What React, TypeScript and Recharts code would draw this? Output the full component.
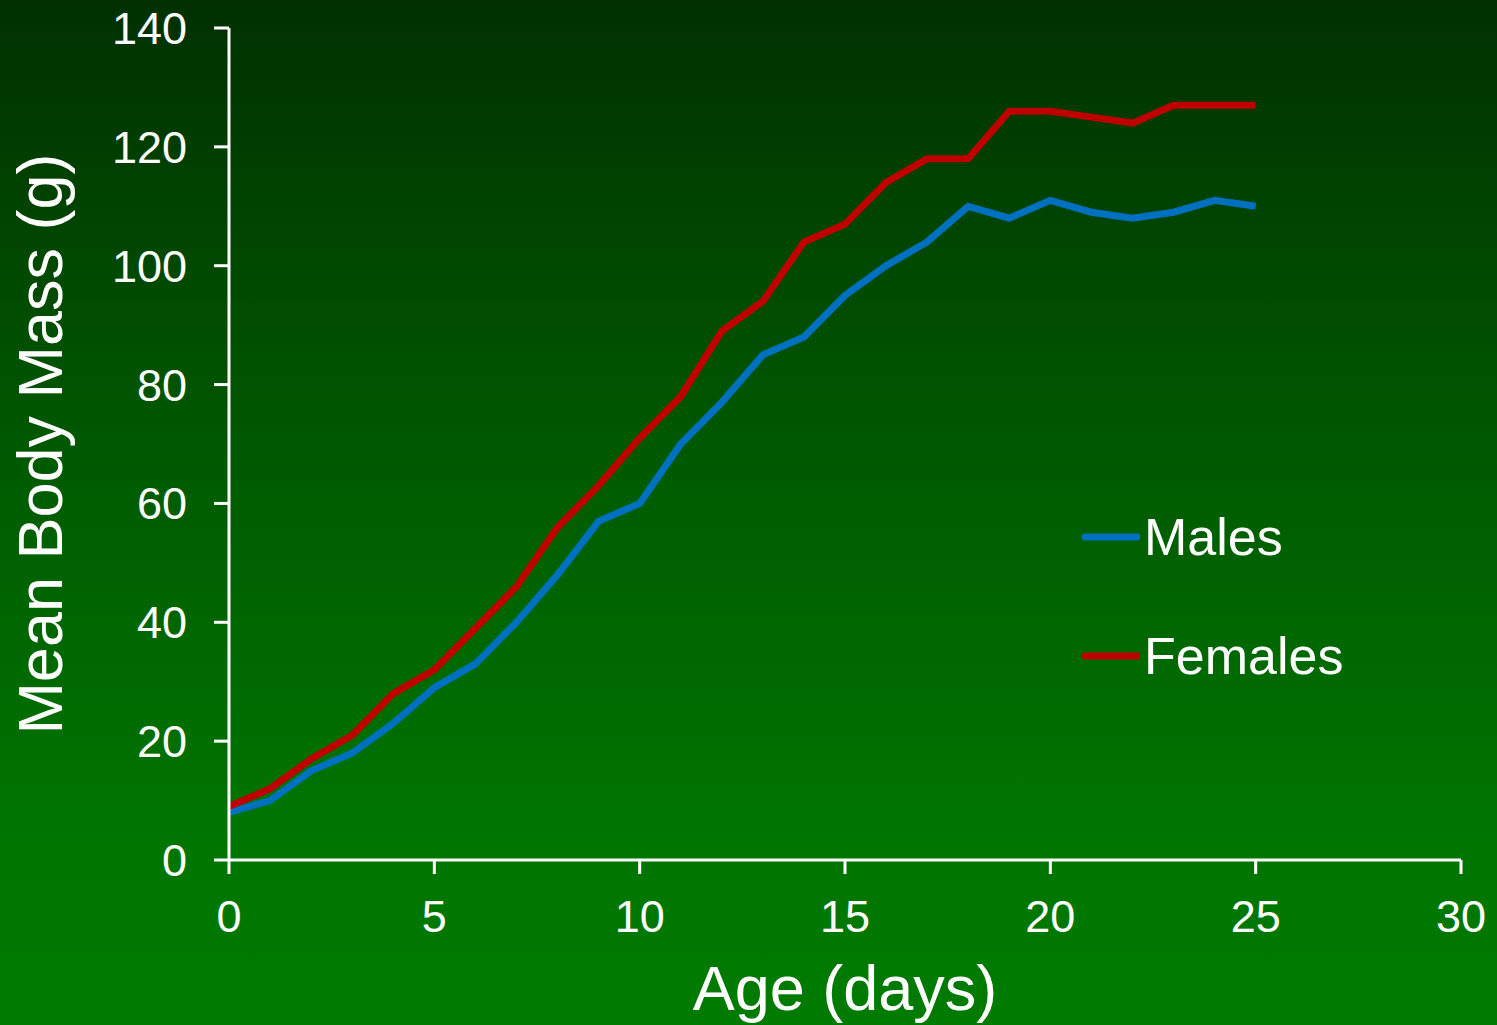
import React from 'react';
import { LineChart, Line, XAxis, YAxis, Legend } from 'recharts';

// age in days
const days = [0, 1, 2, 3, 4, 5, 6, 7, 8, 9, 10, 11, 12, 13, 14, 15, 16, 17, 18, 19, 20, 21, 22, 23, 24, 25];
// mean body mass (g)
const males = [8, 10, 15, 18, 23, 29, 33, 40, 48, 57, 60, 70, 77, 85, 88, 95, 100, 104, 110, 108, 111, 109, 108, 109, 111, 110];
const females = [9, 12, 17, 21, 28, 32, 39, 46, 56, 63, 71, 78, 89, 94, 104, 107, 114, 118, 118, 126, 126, 125, 124, 127, 127, 127];

const seriesNames = ['Males', 'Females'];
const xTicks = [0, 5, 10, 15, 20, 25, 30];
const yTicks = [0, 20, 40, 60, 80, 100, 120, 140];

const data = days.map((d, i) => ({ day: d, males: males[i], females: females[i] }));

const FONT = '"Liberation Sans", Arial, sans-serif';

const renderLegend = (props: any) => {
  const payload = [...(props.payload || [])].sort(
    (a: any, b: any) => seriesNames.indexOf(a.value) - seriesNames.indexOf(b.value)
  );
  return (
    <div>
      {payload.map((entry: any, i: number) => (
        <div
          key={i}
          style={{ display: 'flex', alignItems: 'center', height: 60, marginBottom: i === 0 ? 59 : 0 }}
        >
          <svg width={60} height={10} style={{ display: 'block' }}>
            <line x1={5} y1={5} x2={57} y2={5} stroke={entry.color} strokeWidth={7} strokeLinecap="round" />
          </svg>
          <span style={{ color: '#fff', fontSize: 52, fontFamily: FONT, marginLeft: 4 }}>{entry.value}</span>
        </div>
      ))}
    </div>
  );
};

export default function App() {
  return (
    <div
      style={{
        position: 'fixed',
        left: 0,
        top: 0,
        width: 1497,
        height: 1025,
        background: 'linear-gradient(to bottom, #003000 0%, #005a00 45%, #007400 80%, #007b00 100%)',
        fontFamily: FONT,
      }}
    >
      <LineChart width={1497} height={1025} data={data} margin={{ top: 28, right: 36, left: 0, bottom: 0 }}>
        <XAxis
          dataKey="day"
          type="number"
          domain={[0, 30]}
          ticks={xTicks}
          interval={0}
          height={165}
          stroke="#fff"
          strokeWidth={3}
          tickSize={14}
          tickMargin={26}
          tick={{ fill: '#fff', fontSize: 45, fontFamily: FONT }}
          tickLine={{ stroke: '#fff', strokeWidth: 3 }}
          label={{ value: 'Age (days)', position: 'insideBottom', offset: 15, fill: '#fff', fontSize: 63, fontFamily: FONT }}
        />
        <YAxis
          type="number"
          domain={[0, 140]}
          ticks={yTicks}
          interval={0}
          width={229}
          stroke="#fff"
          strokeWidth={3}
          tickSize={15}
          tickMargin={27}
          tick={{ fill: '#fff', fontSize: 45, fontFamily: FONT }}
          tickLine={{ stroke: '#fff', strokeWidth: 3 }}
          label={{
            value: 'Mean Body Mass (g)',
            angle: -90,
            position: 'insideLeft',
            offset: 40,
            fill: '#fff',
            fontSize: 63,
            fontFamily: FONT,
            style: { textAnchor: 'middle' },
          }}
        />
        <Legend
          layout="horizontal"
          align="center"
          verticalAlign="middle"
          content={renderLegend}
          wrapperStyle={{ position: 'absolute', left: 1080, top: 507, width: 320, bottom: 'auto' }}
        />
        <Line
          type="linear"
          dataKey="males"
          name="Males"
          stroke="#0070C0"
          strokeWidth={7}
          dot={false}
          isAnimationActive={false}
        />
        <Line
          type="linear"
          dataKey="females"
          name="Females"
          stroke="#C00000"
          strokeWidth={7}
          dot={false}
          isAnimationActive={false}
        />
      </LineChart>
    </div>
  );
}
